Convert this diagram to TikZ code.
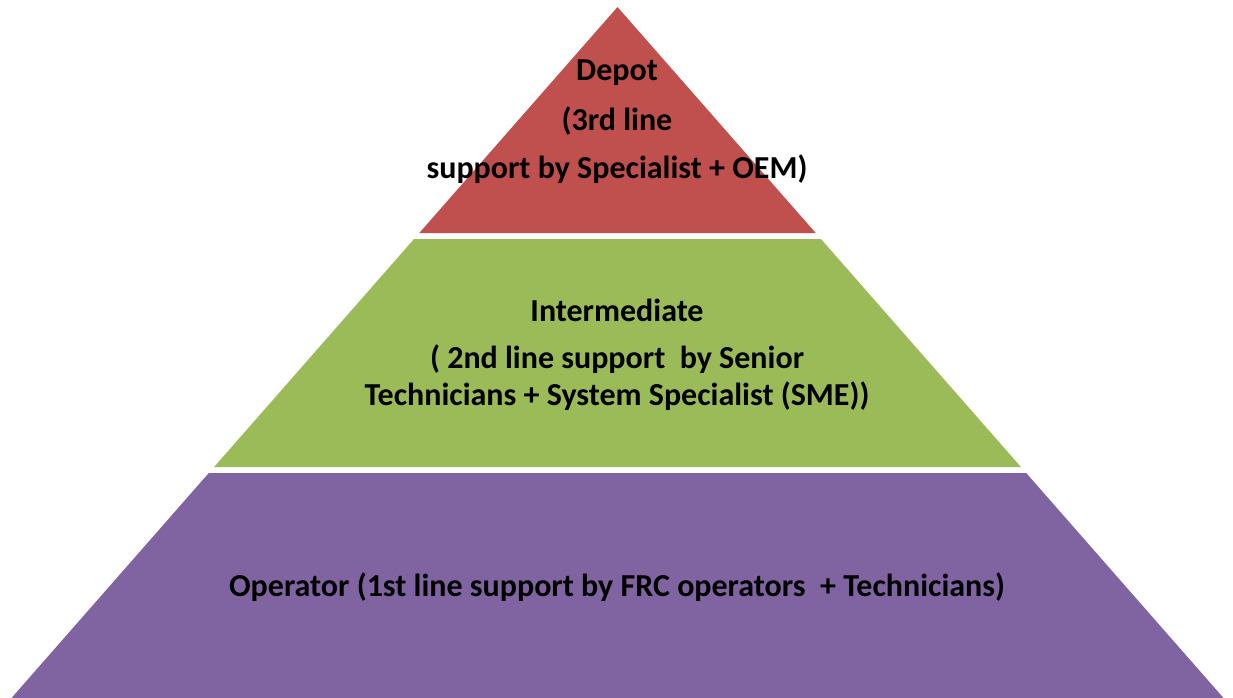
\documentclass[tikz,border=0pt]{standalone}
\usepackage{fontspec}
\setmainfont{Carlito}
\definecolor{depotred}{HTML}{C0504D}
\definecolor{midgreen}{HTML}{9BBB59}
\definecolor{oppurple}{HTML}{8064A2}
\newcommand{\apexx}{617.5}
\newcommand{\apexy}{7}
\newcommand{\slope}{0.877}
\tikzset{
  layer/.style={draw=none},
  lbl/.style={font=\bfseries\fontsize{32}{38}\selectfont, text=black, anchor=base, inner sep=0pt}
}
\begin{document}
\begin{tikzpicture}[x=1pt,y=-1pt]
\useasboundingbox (0,0) rectangle (1233,698);
% top level: depot
\fill[layer, depotred] (\apexx,\apexy)
  -- ({\apexx+\slope*(233-\apexy)},233) -- ({\apexx-\slope*(233-\apexy)},233) -- cycle;
% middle level: intermediate
\fill[layer, midgreen] ({\apexx-\slope*(239-\apexy)},239) -- ({\apexx+\slope*(239-\apexy)},239)
  -- ({\apexx+\slope*(467-\apexy)},467) -- ({\apexx-\slope*(467-\apexy)},467) -- cycle;
% base level: operator
\fill[layer, oppurple] ({\apexx-\slope*(473-\apexy)},473) -- ({\apexx+\slope*(473-\apexy)},473)
  -- ({\apexx+\slope*(698-\apexy)},698) -- ({\apexx-\slope*(698-\apexy)},698) -- cycle;
% labels
\node[lbl] (d1) at (617,81) {Depot};
\node[lbl] (d2) at (617,130) {(3rd line};
\node[lbl] (d3) at (617,178) {support by Specialist + OEM)};
\node[lbl] (i1) at (617,321) {Intermediate};
\node[lbl] (i2) at (617,368) {( 2nd line support\ \ by Senior};
\node[lbl] (i3) at (617,405) {Technicians + System Specialist (SME))};
\node[lbl] (o1) at (617,596) {Operator (1st line support by FRC operators\ \ + Technicians)};
\end{tikzpicture}
\end{document}
